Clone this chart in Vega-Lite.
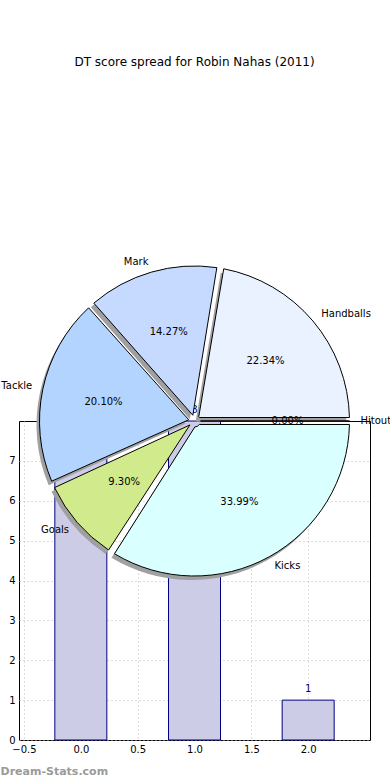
{
  "$schema": "https://vega.github.io/schema/vega-lite/v6.json",
  "width": 351,
  "height": 319,
  "autosize": "none",
  "padding": {"left": 19, "top": 421, "right": 20, "bottom": 40},
  "background": "white",
  "title": {"text": "DT score spread for Robin Nahas (2011)", "fontSize": 12, "fontWeight": "normal", "color": "black", "anchor": "middle", "font": "DejaVu Sans", "offset": 188},
  "config": {
    "font": "DejaVu Sans",
    "view": {"stroke": "black", "strokeWidth": 1},
    "axis": {
      "labelFont": "DejaVu Sans", "labelFontSize": 10, "labelColor": "black",
      "domain": false, "ticks": false, "labelPadding": 4,
      "grid": true, "gridColor": "#b8b8b8", "gridDash": [1, 3], "gridWidth": 1
    }
  },
  "datasets": {
    "bars": [
      {"idx": 0, "count": 8},
      {"idx": 1, "count": 8},
      {"idx": 2, "count": 1}
    ],
    "pie": [
      {"part": "Hitout", "share": 0.0, "k": 1},
      {"part": "Handballs", "share": 0.2234, "k": 2},
      {"part": "Mark", "share": 0.1427, "k": 3},
      {"part": "Tackle", "share": 0.2010, "k": 4},
      {"part": "Goals", "share": 0.0930, "k": 5},
      {"part": "Kicks", "share": 0.3399, "k": 6}
    ]
  },
  "layer": [
    {
      "data": {"name": "bars"},
      "mark": {"type": "bar", "width": 52, "fill": "#ccccE6", "stroke": "#000080", "strokeWidth": 1},
      "encoding": {
        "x": {"field": "idx", "type": "quantitative", "scale": {"domain": [-0.5, 2.5], "nice": false, "zero": false},
              "axis": {"values": [-0.5, 0, 0.5, 1, 1.5, 2], "format": ".1f", "title": "Dream-Stats.com", "titleColor": "#9a9a9a", "titleFontSize": 11, "titleFontWeight": "bold", "titleAnchor": "start", "titleAlign": "left", "titleX": -19, "titleY": 34, "titleBaseline": "alphabetic"}},
        "y": {"field": "count", "type": "quantitative", "scale": {"domain": [0, 8], "nice": false},
              "axis": {"values": [0, 1, 2, 3, 4, 5, 6, 7], "format": "d", "title": null}}
      }
    },
    {
      "data": {"name": "bars"},
      "mark": {"type": "text", "dy": -6, "baseline": "bottom", "color": "#000080", "fontSize": 10},
      "encoding": {
        "x": {"field": "idx", "type": "quantitative"},
        "y": {"field": "count", "type": "quantitative"},
        "text": {"field": "count", "type": "quantitative"}
      }
    },
    {
      "data": {"name": "pie"},
      "encoding": {
        "x": {"datum": 1, "type": "quantitative"},
        "y": {"datum": 8, "type": "quantitative"},
        "theta": {"field": "share", "type": "quantitative", "stack": true, "scale": {"domain": [0, 1], "range": [1.5708, -4.7124]}},
        "order": {"field": "k", "type": "quantitative"}
      },
      "layer": [
        {
          "mark": {"type": "arc", "radius": 155, "radius2": 6, "padAngle": 0.045, "fill": "#a0a0a0", "xOffset": -3, "yOffset": 4}
        },
        {
          "mark": {"type": "arc", "radius": 155, "radius2": 6, "padAngle": 0.045, "stroke": "black", "strokeWidth": 1},
          "encoding": {
            "color": {"field": "part", "type": "nominal", "legend": null,
                      "scale": {"domain": ["Hitout", "Handballs", "Mark", "Tackle", "Goals", "Kicks"],
                                "range": ["#cccccc", "#EBF2FF", "#C6D9FF", "#B3D4FF", "#D1EB8C", "#D9FFFF"]}}
          }
        },
        {
          "mark": {"type": "text", "radius": 93, "fontSize": 10, "color": "black"},
          "encoding": {"text": {"field": "share", "type": "quantitative", "format": ".2%"}}
        },
        {
          "mark": {"type": "text", "radius": 166, "fontSize": 10, "color": "black", "align": "right"},
          "encoding": {"text": {"condition": {"test": "indexof(['Mark','Tackle','Goals'], datum.part) >= 0", "field": "part"}, "value": ""}}
        },
        {
          "mark": {"type": "text", "radius": 166, "fontSize": 10, "color": "black", "align": "left"},
          "encoding": {"text": {"condition": {"test": "indexof(['Mark','Tackle','Goals'], datum.part) < 0", "field": "part"}, "value": ""}}
        }
      ]
    }
  ]
}
